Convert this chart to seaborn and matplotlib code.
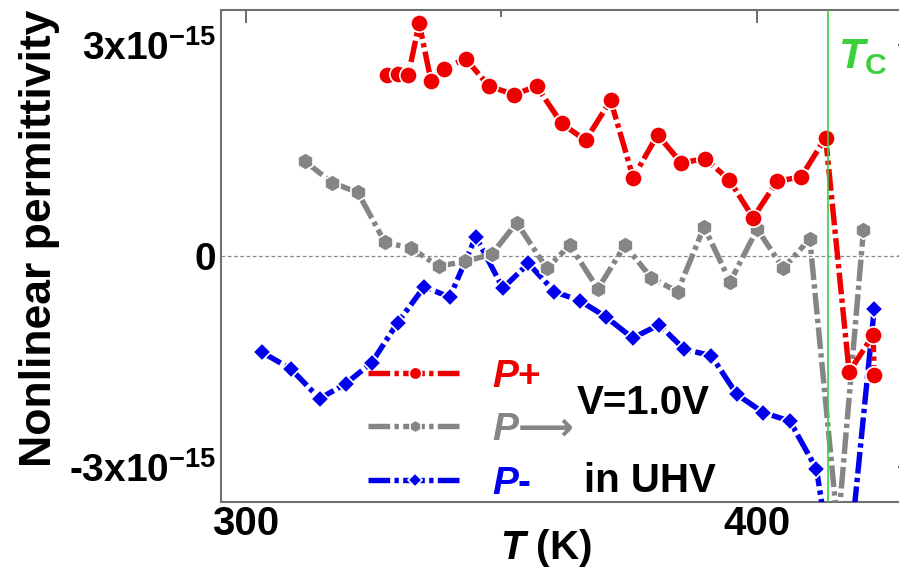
import numpy as np
import matplotlib
matplotlib.use("Agg")
import matplotlib.pyplot as plt
from matplotlib.ticker import FixedLocator, FixedFormatter
import seaborn as sns

# Nonlinear permittivity (in units of 1e-15) vs temperature, three polarisation states
SCALE = 1e-15

temp_pplus = [327.6, 329.8, 331.8, 333.9, 336.2, 338.8, 343.0, 347.6, 352.5, 356.9,
              361.8, 366.5, 371.4, 375.8, 380.6, 385.2, 389.9, 394.6, 399.3, 404.0,
              408.7, 413.5, 418.1, 422.8, 423.0]
perm_pplus = [2.57, 2.58, 2.57, 3.31, 2.49, 2.66, 2.80, 2.41, 2.29, 2.41,
              1.88, 1.64, 2.21, 1.11, 1.72, 1.32, 1.38, 1.08, 0.54, 1.06,
              1.12, 1.68, -1.65, -1.13, -1.70]

temp_pside = [311.6, 316.8, 321.9, 327.2, 332.3, 337.7, 342.9, 348.1, 353.0, 358.9,
              363.4, 368.9, 374.2, 379.3, 384.5, 389.7, 394.8, 400.1, 405.2, 410.4,
              415.9, 420.9]
perm_pside = [1.34, 1.04, 0.90, 0.19, 0.11, -0.15, -0.08, 0.02, 0.47, -0.18,
              0.15, -0.47, 0.15, -0.31, -0.51, 0.41, -0.37, 0.38, -0.18, 0.24,
              -3.88, 0.36]

temp_pminus = [303.1, 308.8, 314.4, 319.5, 324.6, 329.7, 334.9, 339.9, 345.0, 350.3,
               355.3, 360.4, 365.4, 370.5, 375.7, 380.9, 385.8, 391.1, 396.1, 401.3,
               406.5, 411.7, 416.7, 423.0]
perm_pminus = [-1.37, -1.61, -2.03, -1.82, -1.52, -0.95, -0.44, -0.59, 0.27, -0.46,
               -0.11, -0.51, -0.64, -0.87, -1.17, -0.98, -1.33, -1.42, -1.97, -2.23,
               -2.35, -3.03, -5.35, -0.76]

T_CURIE = 414.0

series_labels = [r"$\mathit{P}$+", r"$\mathit{P}\mathsf{⟶}$", r"$\mathit{P}$-"]
x_ticks = [300, 400]
x_minor = [350]
y_ticks = [-3e-15, 0, 3e-15]
y_ticklabels = [r"-3x10$^{-15}$", "0", r"3x10$^{-15}$"]
y_minor = [-1.5e-15, 1.5e-15]

RED, GRAY, BLUE, GREEN = "#ee0000", "#858585", "#0000ee", "#3ccf3c"

sns.set_style("white")
plt.rcParams["font.family"] = ["Liberation Sans", "DejaVu Sans"]
plt.rcParams["font.weight"] = "bold"
plt.rcParams["text.color"] = "black"
plt.rcParams["axes.labelcolor"] = "black"
plt.rcParams["xtick.color"] = "black"
plt.rcParams["ytick.color"] = "black"
plt.rcParams["mathtext.fontset"] = "custom"
plt.rcParams["mathtext.rm"] = "Liberation Sans:bold"
plt.rcParams["mathtext.bf"] = "Liberation Sans:bold"
plt.rcParams["mathtext.it"] = "Liberation Sans:italic:bold"
plt.rcParams["mathtext.sf"] = "DejaVu Sans"
plt.rcParams["mathtext.default"] = "rm"

fig = plt.figure(figsize=(8.99, 5.76), dpi=100)
ax = fig.add_axes([220.5 / 899, 74 / 576, 689.4 / 899, 492.5 / 576])

ax.axhline(0, color="#8a8a8a", lw=0.9, ls=(0, (3, 2)), zorder=1)

dash = (0, (4.0, 0.8, 0.8, 0.8))
common = dict(ax=ax, sort=False, estimator=None, legend=False, linewidth=3.9,
              linestyle=dash, markeredgecolor="white", markeredgewidth=1.2)

sns.lineplot(x=np.array(temp_pminus), y=np.array(perm_pminus) * SCALE,
             color=BLUE, marker="D", markersize=9.5, zorder=3, **common)
line_minus = ax.lines[-1]
sns.lineplot(x=np.array(temp_pside), y=np.array(perm_pside) * SCALE,
             color=GRAY, marker="h", markersize=12.5, zorder=4, **common)
line_side = ax.lines[-1]
sns.lineplot(x=np.array(temp_pplus), y=np.array(perm_pplus) * SCALE,
             color=RED, marker="o", markersize=12.5, zorder=5, **common)
line_plus = ax.lines[-1]

ax.axvline(T_CURIE, color=GREEN, lw=1.4, alpha=0.85, zorder=6)
ax.text(416.0, 2.82e-15, r"$\mathit{T}_\mathrm{C}$", color=GREEN, fontsize=31,
        ha="left", va="center", zorder=7)

ax.set_xlim(295, 430)
ax.set_ylim(-3.5e-15, 3.5e-15)

ax.xaxis.set_major_locator(FixedLocator(x_ticks))
ax.xaxis.set_minor_locator(FixedLocator(x_minor))
ax.yaxis.set_major_locator(FixedLocator(y_ticks))
ax.yaxis.set_major_formatter(FixedFormatter(y_ticklabels))
ax.yaxis.set_minor_locator(FixedLocator(y_minor))

ax.tick_params(which="both", direction="in", top=True, right=True,
               color="#555555", width=1.2, labelcolor="black")
ax.tick_params(which="major", length=9)
ax.tick_params(which="minor", length=5)
ax.tick_params(axis="x", which="major", labelsize=29, pad=2)
ax.tick_params(axis="y", which="major", labelsize=28, pad=3)
for lab in ax.get_xticklabels() + ax.get_yticklabels():
    lab.set_fontweight("bold")

for sp in ax.spines.values():
    sp.set_color("#707070")
    sp.set_linewidth(1.5)

ax.set_xlabel(r"$\mathit{T}$ (K)", fontsize=29, fontweight="bold", va="center")
ax.xaxis.set_label_coords(0.472, -0.093)
ax.set_ylabel("Nonlinear permittivity", fontsize=32, fontweight="bold", va="center")
ax.yaxis.set_label_coords(-0.262, 0.536)

leg = ax.legend(handles=[line_plus, line_side, line_minus], labels=series_labels,
                loc="center left", bbox_to_anchor=(0.214, 0.146), frameon=False,
                borderpad=0, borderaxespad=0, handlelength=2.4, handletextpad=0.8,
                labelspacing=0.45, markerscale=0.72, numpoints=1,
                prop={"size": 28, "weight": "bold"}, labelcolor="linecolor")

ax.text(364.8, -2.10e-15, "V=1.0V", fontsize=29, fontweight="bold",
        ha="left", va="center", color="black")
ax.text(366.2, -3.20e-15, "in UHV", fontsize=29, fontweight="bold",
        ha="left", va="center", color="black")

fig.savefig("out.png", dpi=100)
